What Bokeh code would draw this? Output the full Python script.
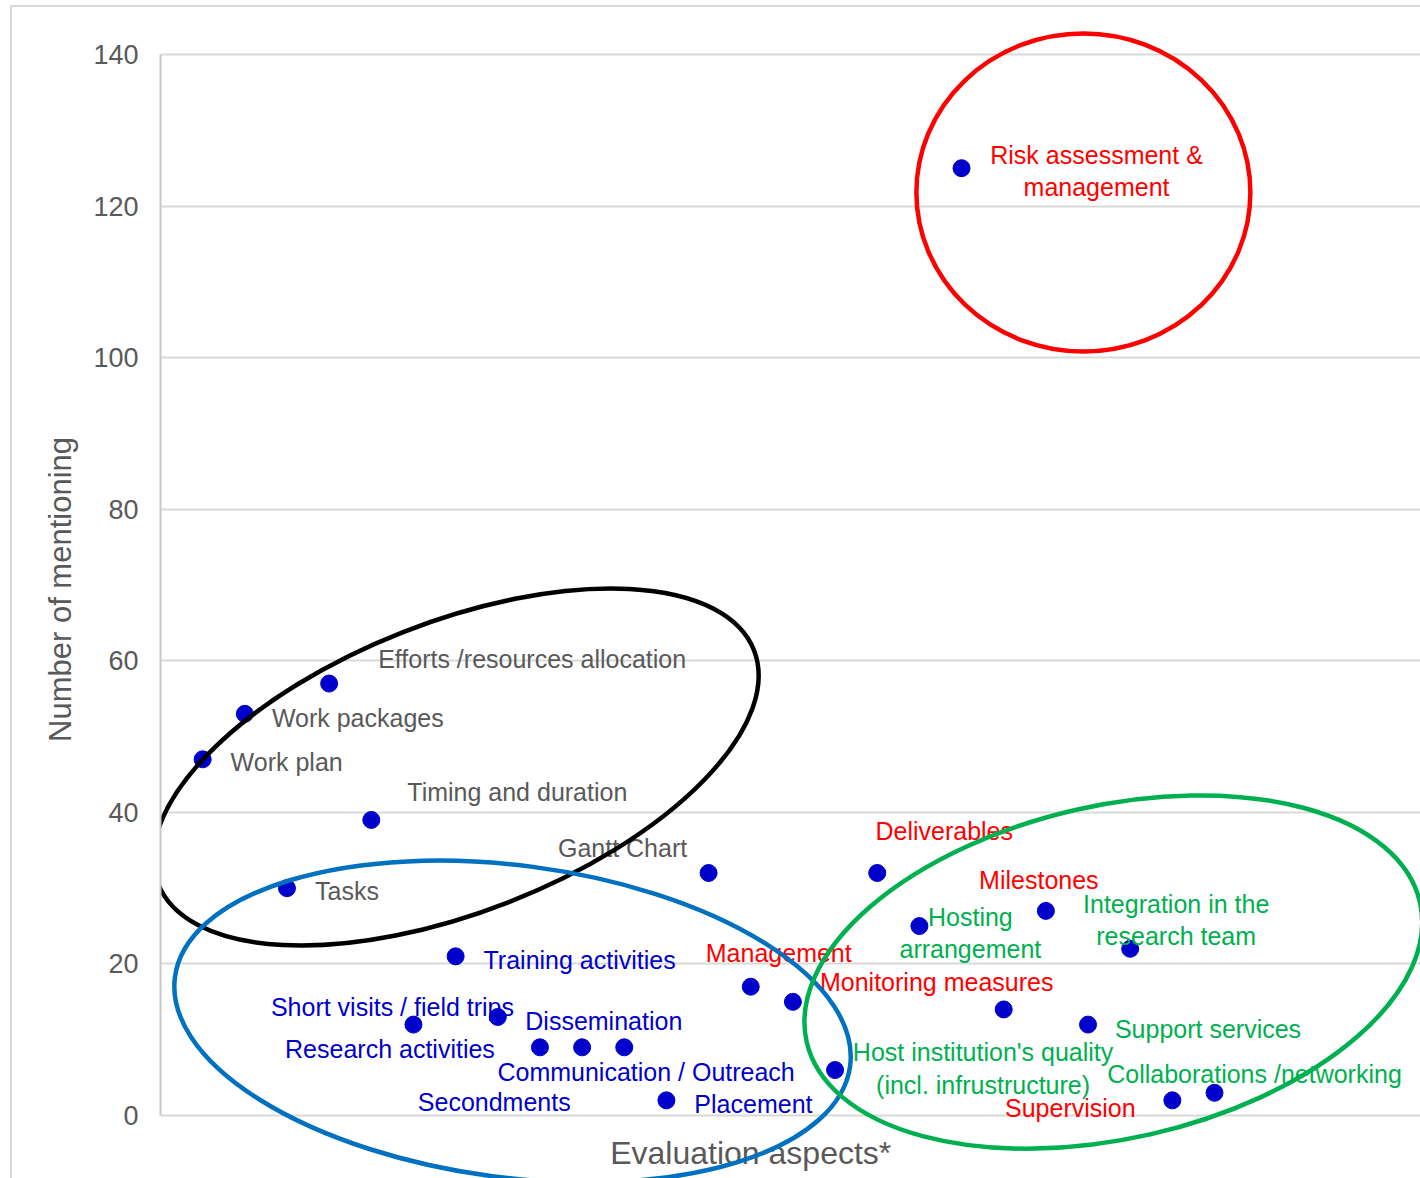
import math
from bokeh.plotting import figure
from bokeh.models import ColumnDataSource, FixedTicker, InlineStyleSheet
from bokeh.core.properties import value
from bokeh.embed import file_html
from bokeh.resources import INLINE

# ---- data ----
aspect_index = list(range(1, 26))
aspects = [
    "Work plan", "Work packages", "Tasks", "Efforts /resources allocation",
    "Timing and duration", "Short visits / field trips", "Training activities",
    "Dissemination", "Research activities", "Communication / Outreach",
    "Secondments", "Placement", "Gantt Chart", "Management", "",
    "Host institution's quality\n(incl. infrustructure)", "Deliverables",
    "Hosting\narrangement", "Risk assessment &\nmanagement", "Monitoring measures",
    "Milestones", "Support services", "Integration in the\nresearch team",
    "Supervision", "Collaborations /networking",
]
mentions = [47, 53, 30, 57, 39, 12, 21, 13, 9, 9, 9, 2, 32, 17, 15, 6, 32, 25,
            125, 14, 27, 12, 22, 2, 3]
category = ["plan", "plan", "plan", "plan", "plan", "train", "train", "train",
            "train", "train", "train", "train", "plan", "risk", "risk", "host",
            "risk", "host", "risk", "risk", "risk", "host", "host", "risk", "host"]
y_ticks = [0, 20, 40, 60, 80, 100, 120, 140]

# highlight ellipses (center in data units)
ell_x = [21.89, 7.01, 8.35, 22.60]
ell_y = [121.8, 45.98, 12.40, 18.93]

# ---- styling ----
cat_color = {"plan": "#595959", "train": "#0000CC", "risk": "#FF0000", "host": "#00B050"}
label_colors = [cat_color[c] for c in category]
label_dx = [84, 113, 60, 203, 146, -21, 124, 106, -150, 64, -130, 87, -86, 28, 0,
            148, 67, 51, 135, -67, -7, 120, 46, -102, 40]
label_dy = [3, 4, 3, -25, -28, -18, 4, 3.5, 2, 25, 55, 4, -25, -34, 0,
            -1.5, -42, 7, 3, -27, -31, 4, -29, 8, -19]
ell_w = [334, 640, 681, 629]
ell_h = [318, 290, 312, 333]
ell_angle = [0.0, math.radians(21.4), math.radians(-7.5), math.radians(12.8)]
ell_color = ["#FF0000", "#000000", "#0070C0", "#00B050"]

FONT = "Liberation Sans"

p = figure(width=1420, height=1178, output_backend="svg", toolbar_location=None,
           x_range=(0, 29.886), y_range=(-8.31, 147.13), x_axis_location=None,
           min_border_left=160, min_border_right=0, min_border_top=0,
           min_border_bottom=0)
p.outline_line_color = None
p.background_fill_color = "white"
p.border_fill_color = "white"

# outer chart-area border (left and top edges)
p.stylesheets = [InlineStyleSheet(css="""
:host { position: relative; }
:host::after {
  content: ""; position: absolute; left: 10px; top: 5px; right: 0; bottom: 0;
  border-left: 2px solid #d9d9d9; border-top: 2px solid #d9d9d9;
  pointer-events: none; z-index: 10;
}
""")]

p.xgrid.visible = False
p.ygrid.ticker = FixedTicker(ticks=y_ticks)
p.ygrid.grid_line_color = "#d9d9d9"
p.ygrid.grid_line_width = 2

ax = p.yaxis[0]
ax.ticker = FixedTicker(ticks=y_ticks)
ax.bounds = (0, 140)
ax.axis_line_color = "#c6c6c6"
ax.axis_line_width = 2
ax.major_tick_line_color = None
ax.minor_tick_line_color = None
ax.major_tick_out = 0
ax.major_tick_in = 0
ax.major_label_standoff = 22
ax.major_label_text_font = FONT
ax.major_label_text_font_size = "27px"
ax.major_label_text_color = "#595959"
ax.axis_label = "Number of mentioning"
ax.axis_label_text_font = FONT
ax.axis_label_text_font_size = "31px"
ax.axis_label_text_font_style = "normal"
ax.axis_label_text_color = "#595959"
ax.axis_label_standoff = 12

src = ColumnDataSource(dict(x=aspect_index, y=mentions, label=aspects,
                            color=label_colors, dx=label_dx, dy=label_dy))

p.scatter("x", "y", source=src, size=17, color="#0000CC", line_color="#0000CC")
p.text("x", "y", text="label", source=src, x_offset="dx", y_offset="dy",
       text_color="color", text_font=value(FONT), text_font_size="25px",
       text_align="center", text_baseline="middle", text_line_height=1.15)

# x axis title drawn as text below the zero line
p.text(x=[14.0], y=[-4.88], text=["Evaluation aspects*"], text_color="#595959",
       text_font=value(FONT), text_font_size="32px", text_align="center",
       text_baseline="middle")

p.ellipse(x=ell_x, y=ell_y, width=ell_w, height=ell_h, angle=ell_angle,
          width_units="screen", height_units="screen", fill_alpha=0,
          line_color=ell_color, line_width=4.5)

open("out.html", "w").write(file_html(p, INLINE))
